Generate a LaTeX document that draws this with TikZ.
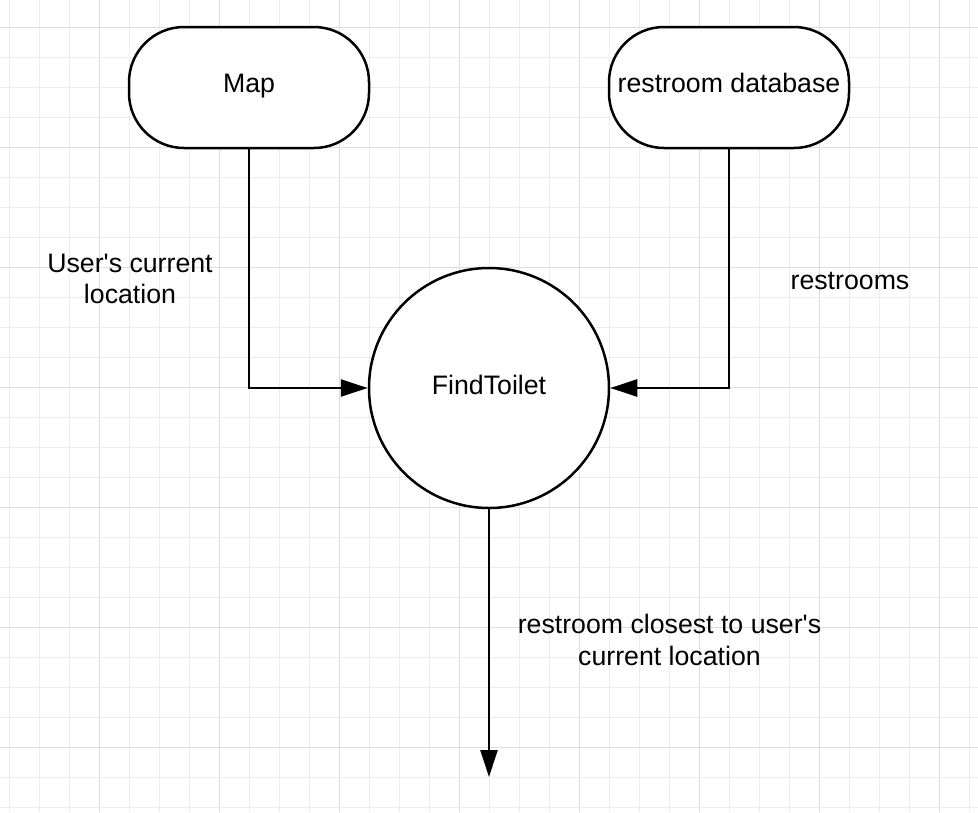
\documentclass[tikz,border=0pt]{standalone}
\usepackage{fontspec}
\setmainfont{Liberation Sans}
\usetikzlibrary{arrows.meta}
\definecolor{gridminor}{RGB}{236,236,236}
\definecolor{gridmajor}{RGB}{221,221,221}
\tikzset{
  x=1pt, y=-1pt,
  every node/.style={font=\fontsize{26.7}{31.7}\selectfont},
  terminal/.style={draw, line width=2.5pt, fill=white, rounded corners=55pt,
    minimum width=240pt, minimum height=121pt, inner sep=0pt,
    text height=19pt, text depth=10pt},
  process/.style={draw, line width=2.5pt, fill=white, circle,
    minimum size=240pt, inner sep=0pt, text height=19pt, text depth=6pt},
  lbl/.style={align=center, inner sep=0pt},
  flow/.style={line width=2.5pt, -{Triangle[length=27pt,width=17pt]}},
  gridmin/.style={gridminor, line width=1pt},
  gridmaj/.style={gridmajor, line width=1pt}
}
\begin{document}
\begin{tikzpicture}
\useasboundingbox (0,0) rectangle (978,812);
\fill[white] (0,0) rectangle (978,812);
% grid
\foreach \k in {0,...,32} {
  \pgfmathsetmacro{\xx}{9.5+30*\k}
  \pgfmathtruncatemacro{\m}{mod(\k,4)}
  \ifnum\m=3 \draw[gridmaj] (\xx,0) -- (\xx,812);
  \else \draw[gridmin] (\xx,0) -- (\xx,812); \fi
}
\foreach \k in {0,...,26} {
  \pgfmathsetmacro{\yy}{27.5+30*\k}
  \pgfmathtruncatemacro{\m}{mod(\k,4)}
  \ifnum\m=0 \draw[gridmaj] (0,\yy) -- (978,\yy);
  \else \draw[gridmin] (0,\yy) -- (978,\yy); \fi
}
% nodes
\node[terminal] (map) at (249,87.5) {Map};
\node[terminal] (db) at (729,87.5) {restroom database};
\node[process] (find) at (489,388) {FindToilet};
\coordinate (out) at (489,777);
% labels
\node[lbl] (l1) at (130,279) {User\textquotesingle s current\\location};
\node[lbl] (l2) at (850,281) {restrooms};
\node[lbl] (l3) at (669.5,640) {restroom closest to user\textquotesingle s\\current location};
% connectors
\draw[flow] (map.south) |- (find.west);
\draw[flow] (db.south) |- (find.east);
\draw[flow] (find.south) -- (out);
\end{tikzpicture}
\end{document}
